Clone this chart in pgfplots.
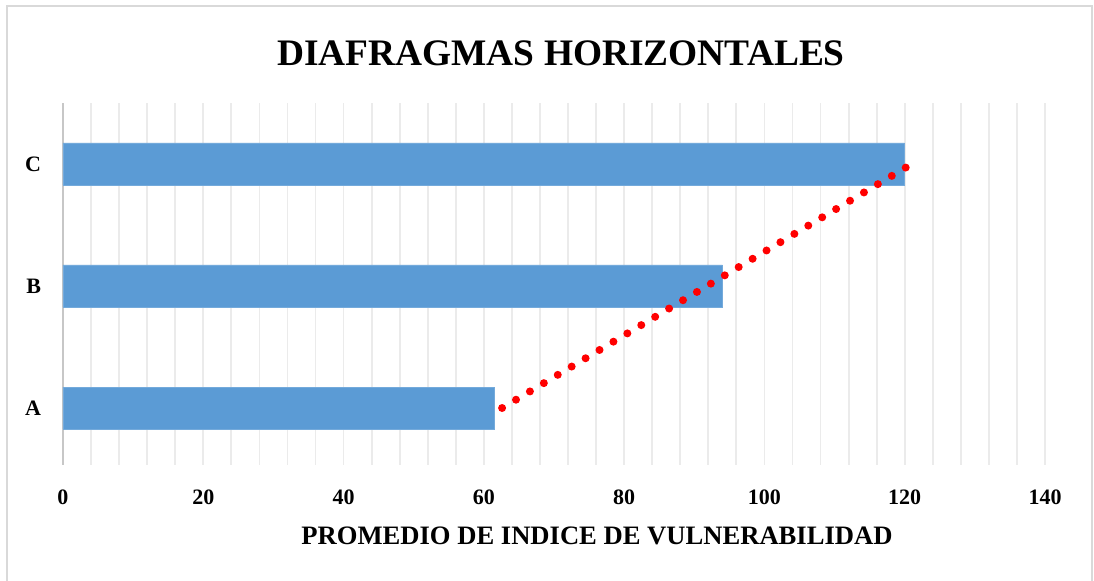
\documentclass[border=0pt]{standalone}
\usepackage{fontspec}
\setmainfont{Liberation Serif}
\usepackage{pgfplots}
\pgfplotsset{compat=1.18}
\definecolor{barblue}{HTML}{5B9BD5}
\definecolor{gridgray}{HTML}{EBEBEB}
\definecolor{framegray}{HTML}{D9D9D9}
\begin{document}
\begin{tikzpicture}
% page area and chart frame
\useasboundingbox (0,0) rectangle (547pt,290.5pt);
\fill[white] (0,0) rectangle (547pt,290.5pt);
\draw[framegray, line width=1pt] (3.25pt,-2pt) -- (3.25pt,287.5pt) -- (545.75pt,287.5pt) -- (545.75pt,-2pt);
\begin{axis}[
  at={(31.5pt,58pt)}, anchor=south west,
  scale only axis, width=491pt, height=181pt,
  xmin=0, xmax=140, ymin=0.533, ymax=3.5,
  xtick={0,20,...,140},
  minor x tick num=4,
  ytick={1,2,3}, yticklabels={A,B,C},
  axis line style={draw=none},
  major tick length=0pt, minor tick length=0pt,
  xmajorgrids, xminorgrids,
  major grid style={gridgray, line width=0.9pt},
  minor grid style={gridgray, line width=0.9pt},
  /pgf/number format/assume math mode=true,
  tick label style={font=\fontsize{11}{13}\selectfont\bfseries},
  xticklabel style={yshift=-9pt},
  yticklabel style={xshift=-7.5pt},
  xlabel={PROMEDIO DE INDICE DE VULNERABILIDAD},
  xlabel style={font=\fontsize{13.3}{15}\selectfont\bfseries, yshift=-4pt, xshift=21.5pt},
  title={DIAFRAGMAS HORIZONTALES},
  title style={font=\fontsize{18.7}{22}\selectfont\bfseries, yshift=9pt, xshift=3.5pt},
  clip=false,
]
% vertical axis line at zero
\draw[framegray!80!gray, line width=0.9pt] (axis cs:0,0.533) -- (axis cs:0,3.5);
\addplot[xbar, bar width=21pt, fill=barblue, draw=barblue!85!white, line width=0.4pt] coordinates {(61.5,1) (94,2) (120,3)};
% linear trend of the three values
\addplot[red, line width=4pt, line cap=round, dash pattern=on 0pt off 8.1pt, mark=none] coordinates {(62.6,1) (121.0,3)};
\end{axis}
\end{tikzpicture}
\end{document}
